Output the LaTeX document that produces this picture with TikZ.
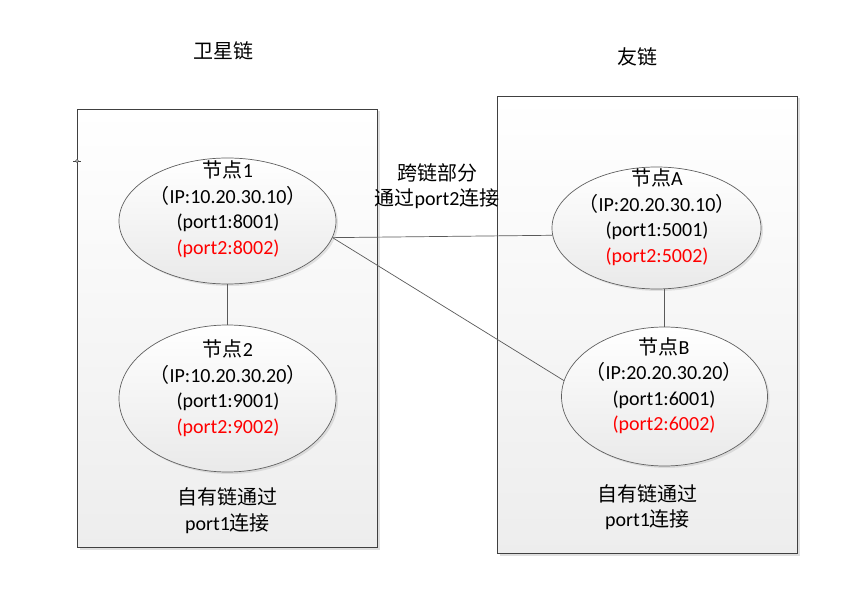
\documentclass[tikz,border=0pt]{standalone}
\usepackage{fontspec}
\setmainfont{Carlito}
\newfontfamily\cjk{Noto Sans CJK SC}
\usetikzlibrary{shapes.geometric,shadows}
\definecolor{edgegray}{HTML}{5A5A5A}
\definecolor{boxline}{HTML}{404040}
\definecolor{pred}{HTML}{FF0000}
\begin{document}
\begin{tikzpicture}[x=1pt,y=-1pt,
  chainbox/.style={rectangle, draw=boxline, line width=0.8pt, top color=white, bottom color=gray!14,
    inner sep=0pt, drop shadow={shadow xshift=2.5pt, shadow yshift=-2.5pt, opacity=0.25, fill=gray}},
  nodeell/.style={ellipse, draw=gray!75!black, line width=0.7pt, top color=white, bottom color=gray!17,
    inner sep=0pt, drop shadow={shadow xshift=2pt, shadow yshift=-2pt, opacity=0.2, fill=gray}},
  lbl/.style={font=\fontsize{20}{25.5}\selectfont, align=center, text=black, inner sep=0pt},
  link/.style={draw=edgegray, line width=0.7pt}]
\useasboundingbox[fill=white] (0,0) rectangle (844,604);

% chain containers
\node[chainbox, minimum width=300pt, minimum height=438pt] (leftbox) at (227,328) {};
\node[chainbox, minimum width=300pt, minimum height=457pt] (rightbox) at (647,324.5) {};

% titles
\node[lbl] (tleft) at (223,51) {\cjk 卫星链};
\node[lbl] (tright) at (637,57) {\cjk 友链};
\node[lbl] (cross) at (437,186) {\cjk 跨链部分\\{\cjk 通过}port2{\cjk 连接}};

% ellipses
\node[nodeell, minimum width=217pt, minimum height=126pt] (n1) at (227.5,221) {};
\node[nodeell, minimum width=217pt, minimum height=147pt] (n2) at (227.5,398.5) {};
\node[nodeell, minimum width=209pt, minimum height=122pt] (nA) at (656.5,228) {};
\node[nodeell, minimum width=206pt, minimum height=139pt] (nB) at (664.5,396.5) {};

% connectors
\draw[link] (n1.south) -- (n2.north);
\draw[link] (nA.south -| nB.north) -- (nB.north);
\draw[link] (n1.-9) -- (nA.184);
\draw[link] (n1.-9) -- (nB.171);

% ellipse texts
\node[lbl] (t1) at (228,209) {{\cjk 节点}1\\{\cjk （}IP:10.20.30.10{\cjk ）}\\(port1:8001)\\\textcolor{pred}{(port2:8002)}};
\node[lbl] (t2) at (228,388) {{\cjk 节点}2\\{\cjk （}IP:10.20.30.20{\cjk ）}\\(port1:9001)\\\textcolor{pred}{(port2:9002)}};
\node[lbl] (tA) at (657,217) {{\cjk 节点}A\\{\cjk （}IP:20.20.30.10{\cjk ）}\\(port1:5001)\\\textcolor{pred}{(port2:5002)}};
\node[lbl] (tB) at (664,385.5) {{\cjk 节点}B\\{\cjk （}IP:20.20.30.20{\cjk ）}\\(port1:6001)\\\textcolor{pred}{(port2:6002)}};

% bottom labels
\node[lbl] (bl) at (227.5,510.5) {\cjk 自有链通过\\port1{\cjk 连接}};
\node[lbl] (br) at (647.5,507) {\cjk 自有链通过\\port1{\cjk 连接}};

% small crosshair marker
\coordinate (mk) at (77,161);
\draw[boxline, line width=0.6pt] ([xshift=-4pt]mk) -- ([xshift=4pt]mk);
\draw[boxline, line width=0.6pt, fill=white] (mk) circle (1.5pt);
\end{tikzpicture}
\end{document}
